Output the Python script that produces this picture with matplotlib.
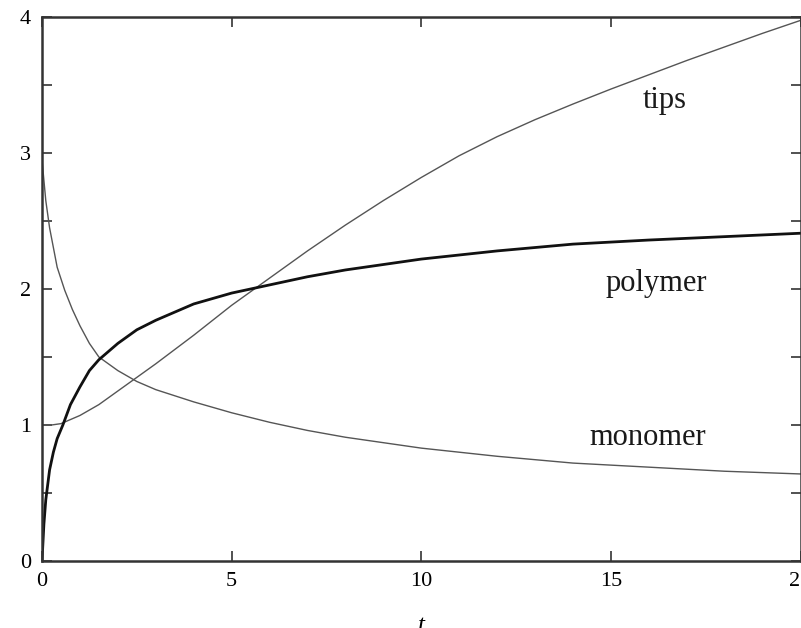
import matplotlib
matplotlib.use("Agg")
import matplotlib.pyplot as plt
from matplotlib.ticker import MultipleLocator

# values
t_monomer = [0, 0.1, 0.2, 0.4, 0.6, 0.8, 1.0, 1.25, 1.5, 2, 2.5, 3, 4, 5, 6, 7, 8, 10, 12, 14, 16, 18, 20]
monomer = [2.95, 2.65, 2.45, 2.16, 1.99, 1.85, 1.73, 1.60, 1.50, 1.40, 1.32, 1.26, 1.17, 1.09, 1.02,
           0.96, 0.91, 0.83, 0.77, 0.72, 0.69, 0.66, 0.64]

t_polymer = [0, 0.05, 0.1, 0.2, 0.3, 0.4, 0.55, 0.75, 1, 1.25, 1.5, 2, 2.5, 3, 4, 5, 6, 7, 8, 10, 12, 14, 16, 18, 20]
polymer = [0, 0.27, 0.45, 0.67, 0.80, 0.90, 1.00, 1.15, 1.28, 1.40, 1.48, 1.60, 1.70, 1.77, 1.89, 1.97,
           2.03, 2.09, 2.14, 2.22, 2.28, 2.33, 2.36, 2.385, 2.41]

t_tips = [0, 0.25, 0.5, 1, 1.5, 2, 2.5, 3, 4, 5, 6, 7, 8, 9, 10, 11, 12, 13, 14, 15, 16, 17, 18, 19, 20]
tips = [1.0, 1.0, 1.01, 1.07, 1.15, 1.25, 1.35, 1.45, 1.66, 1.88, 2.08, 2.28, 2.47, 2.65, 2.82, 2.98,
        3.12, 3.245, 3.36, 3.47, 3.575, 3.68, 3.78, 3.88, 3.975]

labels = ["tips", "polymer", "monomer"]
label_pos = [(15.85, 3.33), (14.87, 1.985), (14.43, 0.853)]

plt.rcParams["font.family"] = ["Liberation Serif", "DejaVu Serif"]

fig = plt.figure(figsize=(8.01, 6.28), dpi=100)
ax = fig.add_axes([42 / 801, 1 - 561 / 628, 758.5 / 801, 544 / 628])

thin = "#555555"
ax.plot(t_tips, tips, color=thin, lw=1.0)
ax.plot(t_monomer, monomer, color=thin, lw=1.0)
ax.plot(t_polymer, polymer, color="#111111", lw=2.0)

for txt, (x, y) in zip(labels, label_pos):
    ax.text(x, y, txt, fontsize=22, ha="left", va="baseline", color="#1a1a1a")

ax.set_xlim(0, 20)
ax.set_ylim(0, 4)
ax.xaxis.set_major_locator(MultipleLocator(5))
ax.yaxis.set_major_locator(MultipleLocator(1))
ax.yaxis.set_minor_locator(MultipleLocator(0.5))
ax.tick_params(which="both", direction="in", top=True, right=True,
               length=7, width=1.2, color="#333333", labelsize=16, pad=8)
for sp in ax.spines.values():
    sp.set_linewidth(1.8)
    sp.set_color("#333333")

ax.set_xlabel("t", fontsize=18, style="italic", labelpad=17)

fig.savefig("out.png", dpi=100)
